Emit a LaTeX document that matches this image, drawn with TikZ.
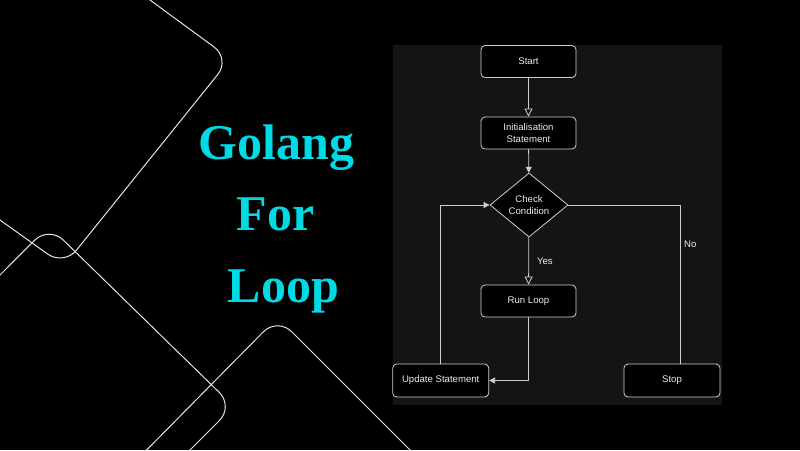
\documentclass[tikz,border=0pt]{standalone}
\usepackage{fontspec}
\setmainfont{Liberation Sans}
\newfontfamily\titlefont{Liberation Serif}
\usetikzlibrary{arrows.meta,shapes.geometric}
\definecolor{panelbg}{HTML}{141414}
\definecolor{edgecol}{HTML}{CFCFCF}
\definecolor{txtcol}{HTML}{EDEDED}
\definecolor{titlecyan}{RGB}{0,218,228}
\begin{document}
\begin{tikzpicture}[x=1pt,y=-1pt,
  box/.style={draw=edgecol, fill=black, rounded corners=4pt, minimum width=95pt,
    minimum height=32pt, inner sep=0pt, text=txtcol,
    font=\fontsize{9.6}{11.5}\selectfont, align=center, line width=0.8pt},
  decision/.style={shape=diamond, draw=edgecol, fill=black, minimum width=78pt,
    minimum height=64pt, inner sep=0pt, text=txtcol,
    font=\fontsize{9.6}{11.5}\selectfont, align=center, line width=0.8pt},
  conn/.style={draw=edgecol, line width=0.8pt},
  openhead/.style={-{Triangle[length=8pt,width=8pt,fill=panelbg]}},
  solidhead/.style={-{Triangle[length=6pt,width=6pt]}},
  lab/.style={text=txtcol, font=\fontsize{9.6}{11.5}\selectfont, inner sep=0pt},
  deco/.style={draw=white!90!black, line width=1pt, rounded corners=20pt},
  title/.style={text=titlecyan, font=\titlefont\bfseries\fontsize{50}{56}\selectfont, anchor=base, inner sep=0pt}]
\useasboundingbox (0,0) rectangle (800,450);
\fill[black] (0,0) rectangle (800,450);
% decorative outlines
\begin{scope}
  \clip (0,0) rectangle (800,450);
  \draw[deco] (120,-22) -- (230.3,58.9) -- (64,265.7) -- (-30,198.6);
  \draw[deco] (-30,305) -- (48.9,226) -- (233.6,406.4) -- (160,480);
  \draw[deco] (117,480) -- (277.5,317.5) -- (440,480);
\end{scope}
% title
\node[title] (t1) at (276.5,159) {Golang};
\node[title] (t2) at (275.5,230) {For};
\node[title] (t3) at (283.5,302) {Loop};
% panel
\fill[panelbg] (393,45) rectangle (722,405);
% nodes
\node[box] (start) at (528.5,61.5) {Start};
\node[box] (init) at (528.5,133) {Initialisation\\Statement};
\node[decision] (cond) at (529,205) {Check\\Condition};
\node[box] (run) at (528.5,301) {Run Loop};
\node[box, minimum width=96pt, minimum height=33pt] (update) at (440.7,380.5) {Update Statement};
\node[box, minimum width=96pt, minimum height=33pt] (stop) at (672,380.5) {Stop};
\coordinate (nobend) at (680.7,205);
% connectors
\draw[conn,openhead] (start) -- (init);
\draw[conn,solidhead] (init) -- (cond);
\draw[conn,openhead] (cond) -- node[lab, right=8pt] {Yes} (run);
\draw[conn,solidhead] (run.south) |- (update.east);
\draw[conn,solidhead] (update.north) |- (cond.west);
\draw[conn] (cond.east) -- (nobend) -- node[lab, pos=0.25, right=3pt] {No} (nobend |- stop.north);
\end{tikzpicture}
\end{document}
